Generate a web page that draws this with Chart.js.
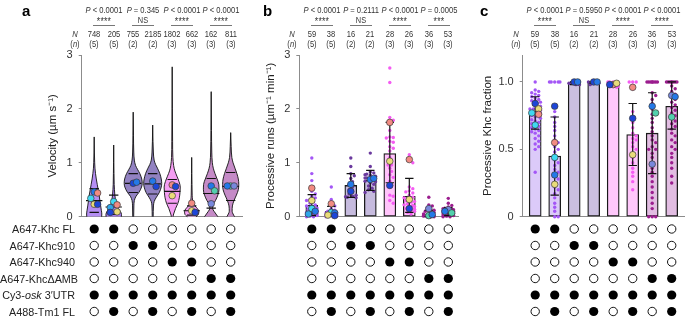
<!DOCTYPE html>
<html><head><meta charset="utf-8">
<script src="https://cdn.jsdelivr.net/npm/chart.js@4.4.0/dist/chart.umd.min.js"></script>
<style>
html,body{margin:0;padding:0;background:#fff;}
#wrap{position:relative;width:685px;height:318px;overflow:hidden;font-family:"Liberation Sans",Arial,sans-serif;color:#222;}
canvas{position:absolute;}
.t{position:absolute;white-space:nowrap;transform:translate(-50%,-50%) scaleX(0.86);line-height:1;}
.ul{position:absolute;height:1px;background:#777;}
.row{position:absolute;left:0;width:75px;text-align:right;font-size:10.8px;line-height:12px;white-space:nowrap;color:#222;}
.lt{position:absolute;font-weight:bold;font-size:15px;line-height:1;color:#000;}
</style></head><body><div id="wrap">
<canvas id="ta" width="250" height="98" style="left:0;top:220px"></canvas>
<canvas id="tb" width="215" height="98" style="left:250px;top:220px"></canvas>
<canvas id="tc" width="220" height="98" style="left:465px;top:220px"></canvas>
<canvas id="ca" width="250" height="232" style="left:0;top:0"></canvas>
<canvas id="cb" width="215" height="232" style="left:250px;top:0"></canvas>
<canvas id="cc" width="220" height="232" style="left:465px;top:0"></canvas>
</div>
<script>
// ---------------- DATA ----------------
const columns = [1, 2, 3, 4, 5, 6, 7, 8];
const rowLabels = ['A647-Khc FL', 'A647-Khc910', 'A647-Khc940', 'A647-KhcΔAMB', 'Cy3-<i>osk</i> 3′UTR', 'A488-Tm1 FL'];
const componentMatrix = [
  [1,1,0,0,0,0,0,0],
  [0,0,1,1,0,0,0,0],
  [0,0,0,0,1,1,0,0],
  [0,0,0,0,0,0,1,1],
  [1,1,1,1,1,1,1,1],
  [0,1,0,1,0,1,0,1]
];

// panel a: velocity violins
const velN = [748, 205, 755, 2185, 1802, 662, 162, 811];
const velReps = [5, 5, 2, 2, 3, 3, 3, 3];
const velP = ['< 0.0001', '= 0.345', '< 0.0001', '< 0.0001'];
const velSig = ['****', 'NS', '****', '****'];
const velTicks = [0, 1, 2, 3];
const velQ1 = [0.08, 0.04, 0.45, 0.42, 0.25, 0.03, 0.16, 0.30];
const velMedian = [0.30, 0.18, 0.62, 0.61, 0.47, 0.11, 0.43, 0.56];
const velQ3 = [0.52, 0.40, 0.80, 0.80, 0.69, 0.20, 0.71, 0.82];
const violinY = [
  [0, 0.05, 0.12, 0.2, 0.3, 0.4, 0.5, 0.6, 0.7, 0.8, 0.9, 1.0, 1.2, 1.48],
  [0, 0.04, 0.1, 0.15, 0.2, 0.3, 0.4, 0.5, 0.6, 0.8, 1.0, 1.33],
  [0, 0.2, 0.3, 0.38, 0.45, 0.55, 0.62, 0.7, 0.8, 0.88, 0.95, 1.05, 1.2, 1.5, 1.94],
  [0, 0.2, 0.28, 0.35, 0.45, 0.55, 0.62, 0.7, 0.8, 0.9, 0.97, 1.05, 1.2, 1.4, 1.70],
  [0, 0.05, 0.15, 0.25, 0.35, 0.45, 0.55, 0.65, 0.75, 0.85, 0.95, 1.1, 1.4, 2.0, 2.78],
  [0, 0.04, 0.1, 0.15, 0.2, 0.25, 0.3, 0.4, 0.6, 0.8, 1.10],
  [0, 0.05, 0.1, 0.15, 0.22, 0.3, 0.4, 0.5, 0.6, 0.7, 0.8, 0.9, 1.0, 1.2, 1.6, 2.32],
  [0, 0.05, 0.1, 0.2, 0.3, 0.4, 0.5, 0.6, 0.7, 0.8, 0.9, 1.0, 1.1, 1.3, 1.56]
];
const violinDensity = [
  [0.78, 0.80, 0.75, 0.68, 0.60, 0.52, 0.42, 0.32, 0.22, 0.14, 0.08, 0.05, 0.02, 0],
  [0.80, 0.82, 0.70, 0.50, 0.35, 0.20, 0.12, 0.08, 0.05, 0.03, 0.015, 0],
  [0.05, 0.07, 0.12, 0.30, 0.60, 0.88, 0.95, 0.90, 0.70, 0.45, 0.25, 0.12, 0.06, 0.03, 0],
  [0.05, 0.08, 0.15, 0.35, 0.70, 0.90, 0.95, 0.90, 0.75, 0.50, 0.30, 0.15, 0.07, 0.03, 0],
  [0.08, 0.15, 0.35, 0.60, 0.75, 0.82, 0.85, 0.72, 0.50, 0.28, 0.15, 0.07, 0.04, 0.02, 0],
  [0.45, 0.70, 0.75, 0.60, 0.35, 0.18, 0.10, 0.05, 0.03, 0.015, 0],
  [0.70, 0.50, 0.30, 0.15, 0.20, 0.45, 0.70, 0.82, 0.80, 0.62, 0.40, 0.22, 0.12, 0.06, 0.03, 0],
  [0.40, 0.25, 0.15, 0.18, 0.35, 0.60, 0.80, 0.85, 0.80, 0.65, 0.45, 0.25, 0.12, 0.05, 0]
];
const velRepValues = [
  [0.46, 0.44, 0.34, 0.23, 0.23],
  [0.28, 0.22, 0.17, 0.09, 0.08],
  [0.62, 0.64],
  [0.66, 0.56],
  [0.59, 0.56, 0.39],
  [0.25, 0.11, 0.08],
  [0.57, 0.48, 0.24],
  [0.57, 0.57, 0.57]
];
const velRepIds = [
  ['B','S','C','Y','D'], ['C','S','K','Y','D'], ['D','B'], ['B','D'],
  ['S','D','Y'], ['S','Y','D'], ['B','T','L'], ['T','L','B']
];

// panel b: processive runs
const runsN = [59, 38, 16, 21, 28, 26, 36, 53];
const runsReps = [5, 5, 2, 2, 3, 3, 3, 3];
const runsP = ['< 0.0001', '= 0.2111', '< 0.0001', '= 0.0005'];
const runsSig = ['****', 'NS', '****', '***'];
const runsTicks = [0, 1, 2, 3];
const runsMean = [0.21, 0.10, 0.58, 0.68, 1.17, 0.38, 0.05, 0.08];
const runsLow = [0.02, 0.01, 0.36, 0.49, 0.63, 0.08, 0.0, 0.02];
const runsHigh = [0.41, 0.19, 0.80, 0.86, 1.75, 0.71, 0.12, 0.17];
const runsDots = [
  [1.09, 0.80, 0.67, 0.55, 0.47, 0.42, 0.38, 0.35, 0.32, 0.30, 0.28, 0.25, 0.22, 0.20, 0.18, 0.16, 0.14, 0.12, 0.10, 0.09, 0.08, 0.06, 0.05, 0.04, 0.03, 0.02, 0.02, 0.01, 0.0, 0.0],
  [0.55, 0.32, 0.25, 0.20, 0.15, 0.12, 0.10, 0.09, 0.08, 0.07, 0.06, 0.05, 0.04, 0.03, 0.02, 0.02, 0.01, 0.0, 0.0],
  [1.09, 0.93, 0.80, 0.76, 0.71, 0.65, 0.60, 0.55, 0.50, 0.46, 0.42, 0.38, 0.36, 0.35, 0.37, 0.40],
  [1.18, 0.93, 0.83, 0.81, 0.79, 0.77, 0.75, 0.72, 0.70, 0.68, 0.66, 0.63, 0.60, 0.57, 0.53, 0.50, 0.47, 0.45, 0.72, 0.78, 0.65],
  [2.76, 2.49, 1.84, 1.79, 1.73, 1.60, 1.48, 1.47, 1.46, 1.40, 1.38, 1.30, 1.27, 1.22, 1.10, 1.02, 0.96, 0.90, 0.84, 0.78, 0.73, 0.66, 0.55, 0.40, 0.38, 0.30, 0.25, 0.96],
  [1.15, 1.05, 1.00, 0.55, 0.48, 0.44, 0.40, 0.36, 0.33, 0.30, 0.27, 0.24, 0.21, 0.18, 0.15, 0.12, 0.10, 0.08, 0.05, 0.35, 0.28, 0.22, 0.46, 0.52, 0.14, 0.19],
  [0.36, 0.22, 0.20, 0.16, 0.13, 0.10, 0.08, 0.06, 0.05, 0.04, 0.03, 0.02, 0.01, 0.0, 0.0, 0.0, 0.12, 0.07, 0.02, 0.0],
  [0.34, 0.25, 0.21, 0.18, 0.16, 0.14, 0.12, 0.11, 0.10, 0.09, 0.08, 0.07, 0.06, 0.05, 0.04, 0.03, 0.02, 0.01, 0.0, 0.0, 0.13, 0.15, 0.09, 0.06, 0.03]
];
const runsRepValues = [
  [0.53, 0.30, 0.15, 0.10, 0.05], [0.24, 0.08, 0.07, 0.03, 0.02], [0.60, 0.47], [0.69, 0.71],
  [1.75, 1.03, 0.58], [1.06, 0.32, 0.15], [0.15, 0.02, 0.04], [0.13, 0.07, 0.10]
];
const runsRepIds = [
  ['S','Y','C','B','K'], ['S','C','B','Y','D'], ['B','D'], ['B','B'],
  ['S','Y','D'], ['S','Y','D'], ['L','T','B'], ['L','T','B']
];

// panel c: processive Khc fraction
const fracN = [59, 38, 16, 21, 28, 26, 36, 53];
const fracReps = [5, 5, 2, 2, 3, 3, 3, 3];
const fracP = ['< 0.0001', '= 0.5950', '< 0.0001', '< 0.0001'];
const fracSig = ['****', 'NS', '****', '****'];
const fracTicks = [0, 0.5, 1.0];
const fracTickLabels = ['0', '0.5', '1.0'];
const fracMean = [0.77, 0.45, 0.99, 0.995, 0.985, 0.61, 0.62, 0.82];
const fracLow = [0.65, 0.16, 0.98, 0.99, 0.975, 0.38, 0.32, 0.65];
const fracHigh = [0.89, 0.74, 1.0, 1.0, 0.995, 0.84, 0.92, 1.0];
const fracDots = [
  [1.0, 0.94, 0.93, 0.92, 0.91, 0.90, 0.89, 0.88, 0.87, 0.86, 0.86, 0.85, 0.84, 0.83, 0.82, 0.81, 0.80, 0.80, 0.79, 0.78, 0.78, 0.77, 0.76, 0.75, 0.75, 0.74, 0.73, 0.72, 0.71, 0.70, 0.69, 0.68, 0.67, 0.66, 0.65, 0.64, 0.63, 0.62, 0.60, 0.58, 0.56, 0.54, 0.52, 0.50, 0.33],
  [1.0, 1.0, 1.0, 1.0, 1.0, 0.82, 0.78, 0.74, 0.70, 0.67, 0.64, 0.60, 0.57, 0.55, 0.52, 0.50, 0.48, 0.45, 0.42, 0.40, 0.38, 0.35, 0.33, 0.30, 0.28, 0.25, 0.22, 0.20, 0.17, 0.14, 0.10, 0.07, 0.04, 0.0, 0.0],
  [1.0, 1.0, 0.99, 0.98, 0.98, 0.99, 1.0],
  [1.0, 1.0, 0.98, 0.99, 1.0, 0.99],
  [1.0, 1.0, 1.0, 0.99, 0.98, 0.97, 0.96, 0.98, 0.99, 1.0, 0.97, 0.98],
  [1.0, 1.0, 1.0, 0.95, 0.78, 0.73, 0.70, 0.66, 0.62, 0.58, 0.55, 0.52, 0.50, 0.47, 0.44, 0.40, 0.36, 0.33, 0.30, 0.26, 0.20, 0.60, 0.57],
  [1.0, 1.0, 1.0, 1.0, 1.0, 1.0, 1.0, 1.0, 0.92, 0.90, 0.87, 0.84, 0.80, 0.76, 0.73, 0.70, 0.66, 0.63, 0.60, 0.57, 0.55, 0.52, 0.50, 0.50, 0.47, 0.44, 0.40, 0.36, 0.33, 0.30, 0.26, 0.22, 0.18, 0.14, 0.10, 0.06, 0.0, 0.0, 0.0],
  [1.0, 1.0, 1.0, 1.0, 1.0, 1.0, 1.0, 1.0, 0.97, 0.95, 0.93, 0.91, 0.89, 0.87, 0.85, 0.83, 0.81, 0.79, 0.77, 0.75, 0.73, 0.71, 0.69, 0.67, 0.65, 0.62, 0.60, 0.57, 0.55, 0.52, 0.50, 0.47, 0.44, 0.40, 0.36, 0.30, 0.25]
];
const fracRepValues = [
  [0.84, 0.80, 0.77, 0.76, 0.68], [0.82, 0.55, 0.44, 0.31, 0.24], [1.0, 1.0], [1.0, 1.0],
  [0.98, 0.99, 0.98], [0.96, 0.73, 0.46], [0.82, 0.77, 0.39], [0.90, 0.89, 0.74]
];
const fracRepIds = [
  ['D','Y','C','S','C'], ['D','S','C','B','Y'], ['D','B'], ['D','B'],
  ['S','Y','D'], ['S','D','Y'], ['B','T','L'], ['L','B','T']
];

// ---------------- STYLE ----------------
const FONT = '"Liberation Sans", Arial, sans-serif';
const AX = '#8c8c8c';
const XPPU = 19.5;
const REP_COLORS = {S:'#f28b82', Y:'#e9dc7a', C:'#3fd8f2', K:'#2fa6ea', B:'#2479e8', D:'#1d46d8', T:'#52d0ad', L:'#7888dc'};
const violinColors = ['#b58ef3','#a87df1','#9282c2','#9282c2','#f59ef3','#f5a2f3','#c58bc7','#c58bc7'];
const runsBarColors = ['#c7aef6','#c7aef6','#c6bbde','#c6bbde','#ffc4fa','#ffc4fa','#dcb1dc','#dcb1dc'];
const fracBarColors = ['#dccaf9','#dccaf9','#cbbfe0','#cbbfe0','#ffc8fb','#ffc8fb','#e2bde2','#e2bde2'];
const dotColors = ['#a457f6','#a457f6','#6b3a9e','#6b3a9e','#f45cf2','#f45cf2','#9b1d8e','#9b1d8e'];

const PANELS = {
  a: {left: 0, width: 250, axis: 81.7, right: 243, titleX: 53},
  b: {left: 250, width: 215, axis: 299.3, right: 459, titleX: 271},
  c: {left: 465, width: 220, axis: 522.7, right: 685, titleX: 488}
};
const TOP = 55, BOTTOM = 216.7, CH = 232;

function xRange(p) {
  const min = 1 - 12.5 / XPPU;
  const max = min + (p.right - p.axis) / XPPU;
  return {min, max};
}

function swarm(vals, r, ppuY, maxPx) {
  const placed = [], offs = [];
  vals.forEach(v => {
    const y = v * ppuY;
    let best = 0, bestOv = Infinity;
    const kmax = 2 * Math.ceil(maxPx / r);
    for (let k = 0; k <= kmax; k++) {
      const o = (k % 2 ? 1 : -1) * Math.ceil(k / 2) * r;
      if (Math.abs(o) > maxPx + 0.01) continue;
      let ov = 0;
      placed.forEach(p => { const d = Math.hypot(p.x - o, p.y - y); if (d < 2 * r) ov += 2 * r - d; });
      if (ov === 0) { best = o; bestOv = 0; break; }
      if (ov < bestOv) { bestOv = ov; best = o; }
    }
    placed.push({x: best, y});
    offs.push(best / XPPU);
  });
  return offs;
}

function baseOptions(p, yMax, ticks, tickLabels, title) {
  const xr = xRange(p);
  const fs = 11.5;
  return {
    responsive: false, animation: false, devicePixelRatio: 1,
    layout: {autoPadding: false, padding: {top: TOP, bottom: CH - BOTTOM, left: 0, right: p.left + p.width - p.right}},
    plugins: {legend: {display: false}, tooltip: {enabled: false}},
    scales: {
      x: {type: 'linear', min: xr.min, max: xr.max, offset: false, display: false},
      y: {type: 'linear', position: 'left', min: 0, max: yMax,
        afterBuildTicks: s => { s.ticks = ticks.map(v => ({value: v})); },
        ticks: {font: {family: FONT, size: 11}, color: '#333', padding: 6,
          callback: (v, i) => tickLabels[i]},
        grid: {display: true, drawOnChartArea: true, drawTicks: true, tickLength: 3,
          color: c => (c.tick && c.tick.value === 0) ? AX : 'rgba(0,0,0,0)', tickColor: AX, lineWidth: 1},
        border: {display: true, color: AX, width: 1},
        title: {display: true, text: title, font: {family: FONT, size: fs}, color: '#222',
          padding: {top: p.titleX - p.left - fs * 0.6, bottom: 0}},
        afterFit: s => { s.width = p.axis - p.left; }}
    }
  };
}

function repDataset(values, ids, ppuY, order) {
  const data = [], colors = [];
  values.forEach((vals, i) => {
    const offs = swarm(vals, 3.4, ppuY, 6.5);
    vals.forEach((v, k) => { data.push({x: columns[i] + offs[k], y: v}); colors.push(REP_COLORS[ids[i][k]]); });
  });
  return {type: 'scatter', data, pointRadius: 3.3, pointBackgroundColor: colors, pointBorderColor: '#3a3a3a',
    pointBorderWidth: 0.7, order, clip: false};
}

function segDataset(segs, width, order) {
  const data = [];
  segs.forEach(s => { data.push({x: s[0], y: s[1]}, {x: s[2], y: s[3]}, {x: s[0], y: null}); });
  return {type: 'line', data, borderColor: '#111', borderWidth: width, pointRadius: 0, spanGaps: false,
    fill: false, order, clip: false};
}

// ---------------- PANEL A ----------------
const pA = PANELS.a;
const dsA = [];
const VW = 9.5 / XPPU;
violinY.forEach((ys, i) => {
  const c = columns[i], d = violinDensity[i];
  dsA.push({type: 'line', indexAxis: 'y', data: ys.map((y, k) => ({x: c - d[k] * VW, y})),
    borderColor: '#111', borderWidth: 0.9, pointRadius: 0, fill: false, cubicInterpolationMode: 'monotone', order: 5, clip: false});
  dsA.push({type: 'line', indexAxis: 'y', data: ys.map((y, k) => ({x: c + d[k] * VW, y})),
    borderColor: '#111', borderWidth: 0.9, pointRadius: 0, fill: '-1', backgroundColor: violinColors[i],
    cubicInterpolationMode: 'monotone', order: 5, clip: false});
});
const medSegs = [], qSegs = [];
columns.forEach((c, i) => {
  medSegs.push([c - 0.42, velMedian[i], c + 0.42, velMedian[i]]);
  qSegs.push([c - 0.24, velQ1[i], c + 0.24, velQ1[i]]);
  qSegs.push([c - 0.24, velQ3[i], c + 0.24, velQ3[i]]);
});
dsA.push(segDataset(medSegs, 1.2, 2));
dsA.push(segDataset(qSegs, 1.1, 2));
dsA.push(repDataset(velRepValues, velRepIds, 54, 1));
const chartA = new Chart(document.getElementById('ca'), {type: 'scatter', data: {datasets: dsA},
  options: baseOptions(pA, 3, velTicks, velTicks.map(String), 'Velocity (µm s⁻¹)')});

// ---------------- PANELS B / C ----------------
function barPanel(id, p, means, lows, highs, dots, repVals, repIds, barColors, yMax, ticks, tickLabels, title, ppuY) {
  const ds = [];
  ds.push({type: 'bar', data: columns.map((c, i) => ({x: c, y: means[i]})), backgroundColor: barColors,
    borderColor: '#1a1a1a', borderWidth: 1.3, borderSkipped: false, barThickness: 12, order: 6, clip: false});
  const dData = [], dCol = [];
  dots.forEach((vals, i) => {
    const offs = swarm(vals, 1.75, ppuY, 6);
    vals.forEach((v, k) => { dData.push({x: columns[i] + offs[k], y: v}); dCol.push(dotColors[i]); });
  });
  ds.push({type: 'scatter', data: dData, pointRadius: 1.7, pointBackgroundColor: dCol, pointBorderWidth: 0, order: 4, clip: false});
  const segs = [];
  const cw = 4.2 / XPPU;
  columns.forEach((c, i) => {
    segs.push([c, lows[i], c, highs[i]]);
    segs.push([c - cw, highs[i], c + cw, highs[i]]);
    segs.push([c - cw, lows[i], c + cw, lows[i]]);
  });
  ds.push(segDataset(segs, 1.2, 3));
  ds.push(repDataset(repVals, repIds, ppuY, 1));
  return new Chart(document.getElementById(id), {type: 'scatter', data: {datasets: ds},
    options: baseOptions(p, yMax, ticks, tickLabels, title)});
}
const chartB = barPanel('cb', PANELS.b, runsMean, runsLow, runsHigh, runsDots, runsRepValues, runsRepIds,
  runsBarColors, 3, runsTicks, runsTicks.map(String), 'Processive runs (µm⁻¹ min⁻¹)', 54);
const chartC = barPanel('cc', PANELS.c, fracMean, fracLow, fracHigh, fracDots, fracRepValues, fracRepIds,
  fracBarColors, 1.2, fracTicks, fracTickLabels, 'Processive Khc fraction', 135);

// ---------------- COMPONENT TABLES ----------------
function tableChart(id, p) {
  const xr = xRange(p);
  const filled = [], empty = [];
  componentMatrix.forEach((row, r) => row.forEach((v, i) => (v ? filled : empty).push({x: columns[i], y: r})));
  return new Chart(document.getElementById(id), {type: 'scatter',
    data: {datasets: [
      {data: filled, pointRadius: 4.6, pointBackgroundColor: '#000', pointBorderWidth: 0, clip: false},
      {data: empty, pointRadius: 4.2, pointBackgroundColor: '#fff', pointBorderColor: '#111', pointBorderWidth: 1, clip: false}
    ]},
    options: {responsive: false, animation: false, devicePixelRatio: 1,
      layout: {autoPadding: false, padding: {top: 0, bottom: 0, left: p.axis - p.left, right: p.left + p.width - p.right}},
      plugins: {legend: {display: false}, tooltip: {enabled: false}},
      scales: {x: {type: 'linear', min: xr.min, max: xr.max, display: false},
        y: {type: 'linear', reverse: true, min: -0.545, max: -0.545 + 98 / 16.5, display: false}}}});
}
tableChart('ta', PANELS.a);
tableChart('tb', PANELS.b);
tableChart('tc', PANELS.c);

// ---------------- TEXT ----------------
const wrap = document.getElementById('wrap');
function addText(x, y, html, size, extra) {
  const d = document.createElement('div');
  d.className = 't';
  d.style.left = x + 'px'; d.style.top = y + 'px'; d.style.fontSize = size + 'px';
  if (extra) Object.assign(d.style, extra);
  d.innerHTML = html;
  wrap.appendChild(d);
}
function headers(chart, p, P, sig, N, n) {
  const xs = columns.map(c => p.left + chart.scales.x.getPixelForValue(c));
  for (let k = 0; k < 4; k++) {
    const cx = (xs[2 * k] + xs[2 * k + 1]) / 2;
    addText(cx, 9.5, '<i>P</i> ' + P[k], 8.8, {color: '#333'});
    if (sig[k] === 'NS') addText(cx, 19.5, 'NS', 8.6, {color: '#333'});
    else addText(cx, 21.5, sig[k], 10, {color: '#333', letterSpacing: '0.3px'});
    const u = document.createElement('div');
    u.className = 'ul';
    u.style.left = (cx - 11) + 'px'; u.style.top = '25px'; u.style.width = '22px';
    wrap.appendChild(u);
  }
  const lx = xs[0] - XPPU;
  addText(lx, 33.5, '<i>N</i>', 8.8, {color: '#333'});
  addText(lx, 43.5, '(<i>n</i>)', 8.8, {color: '#333'});
  xs.forEach((x, i) => {
    addText(x, 33.5, String(N[i]), 8.8, {color: '#333'});
    addText(x, 43.5, '(' + n[i] + ')', 8.8, {color: '#333'});
  });
}
headers(chartA, PANELS.a, velP, velSig, velN, velReps);
headers(chartB, PANELS.b, runsP, runsSig, runsN, runsReps);
headers(chartC, PANELS.c, fracP, fracSig, fracN, fracReps);

rowLabels.forEach((lab, r) => {
  const d = document.createElement('div');
  d.className = 'row';
  d.style.top = (229 + 16.5 * r - 6) + 'px';
  d.innerHTML = lab;
  wrap.appendChild(d);
});
[['a', 22, 3], ['b', 263, 3], ['c', 480, 3]].forEach(([t, x, y]) => {
  const d = document.createElement('div');
  d.className = 'lt'; d.style.left = x + 'px'; d.style.top = y + 'px'; d.textContent = t;
  wrap.appendChild(d);
});
</script>
</body></html>
